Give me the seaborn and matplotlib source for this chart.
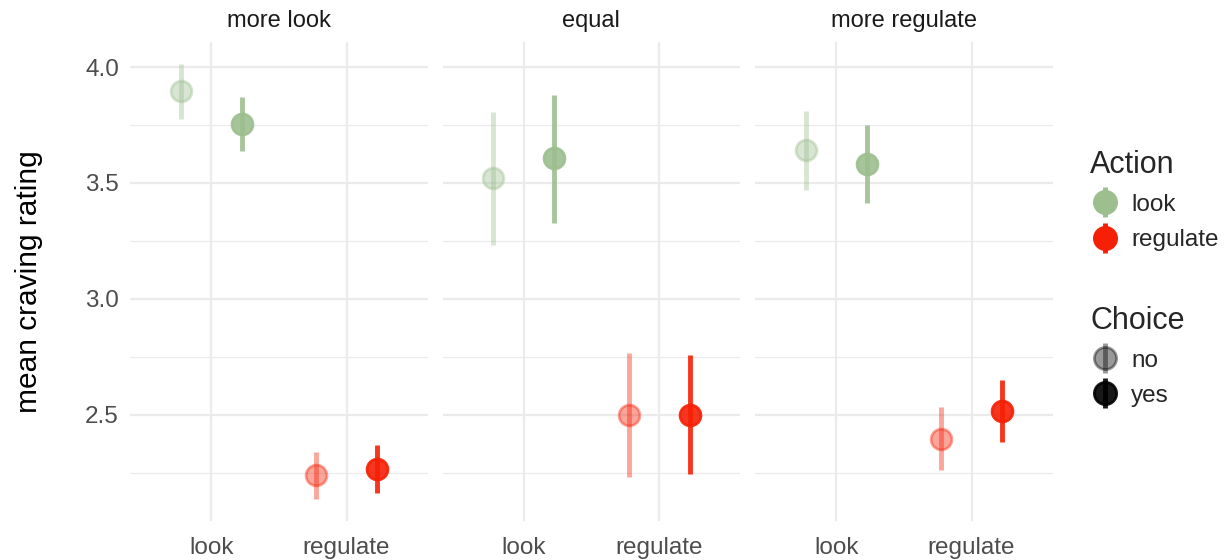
import numpy as np
import pandas as pd
import matplotlib
matplotlib.use("Agg")
import matplotlib.pyplot as plt
from matplotlib.lines import Line2D
from matplotlib.legend_handler import HandlerTuple
import seaborn as sns

sns.set_theme(style="whitegrid")
plt.rcParams['font.family'] = ['Liberation Sans', 'DejaVu Sans']

# data
conditions = ["more look", "equal", "more regulate"]
actions = ["look", "regulate"]
choices = ["no", "yes"]

cond_col = ["more look"] * 4 + ["equal"] * 4 + ["more regulate"] * 4
action_col = ["look", "look", "regulate", "regulate"] * 3
choice_col = ["no", "yes"] * 6
mean_rating = [3.897, 3.754, 2.241, 2.267,
               3.520, 3.606, 2.500, 2.500,
               3.642, 3.583, 2.397, 2.518]
lower = [3.777, 3.638, 2.137, 2.162,
         3.233, 3.329, 2.231, 2.244,
         3.471, 3.415, 2.260, 2.385]
upper = [4.012, 3.872, 2.339, 2.371,
         3.807, 3.879, 2.766, 2.756,
         3.810, 3.750, 2.533, 2.652]

df = pd.DataFrame({"cond": cond_col, "action": action_col, "choice": choice_col,
                   "mean": mean_rating, "lo": lower, "hi": upper})

action_colors = {"look": "#9dbf8f", "regulate": "#f52005"}
choice_alpha = {"no": 0.4, "yes": 0.9}
dodge = {"no": -0.225, "yes": 0.225}

fig, axes = plt.subplots(1, 3, figsize=(12.27, 5.6), dpi=100, sharey=True)
fig.subplots_adjust(left=0.106, right=0.858, top=0.925, bottom=0.07, wspace=0.05)

for ax, cond in zip(axes, conditions):
    sub = df[df["cond"] == cond]
    for _, row in sub.iterrows():
        xpos = actions.index(row["action"]) + dodge[row["choice"]]
        col = action_colors[row["action"]]
        a = choice_alpha[row["choice"]]
        ax.vlines(xpos, row["lo"], row["hi"], color=col, alpha=a, lw=3.5, zorder=3)
        ax.plot(xpos, row["mean"], "o", ms=15, color=col, mec=col, mew=2,
                alpha=a, zorder=4)
    ax.set_xlim(-0.6, 1.6)
    ax.set_ylim(2.043, 4.108)
    ax.set_xticks([0, 1])
    ax.set_xticklabels(actions)
    ax.set_yticks([2.5, 3.0, 3.5, 4.0])
    ax.set_yticks([2.25, 2.75, 3.25, 3.75], minor=True)
    ax.grid(True, which="major", color="#ebebeb", lw=1.6)
    ax.grid(True, which="minor", axis="y", color="#ebebeb", lw=0.9)
    ax.grid(False, which="minor", axis="x")
    ax.set_facecolor("white")
    for s in ax.spines.values():
        s.set_visible(False)
    ax.tick_params(axis="both", which="both", length=0, labelsize=17.5,
                   labelcolor="#4d4d4d")
    ax.tick_params(axis="x", pad=12)
    ax.tick_params(axis="y", pad=8)
    ax.set_title(cond, fontsize=17, color="#1a1a1a", pad=11)
    ax.set_xlabel("")
    ax.set_ylabel("")

axes[0].set_ylabel("mean craving rating", fontsize=21.5, color="black", labelpad=30)


def key(color, alpha):
    dot = Line2D([], [], marker="o", ls="", ms=16, color=color, mec=color,
                 mew=2, alpha=alpha)
    bar = Line2D([], [], marker="|", ls="", ms=22, mew=3.5, color=color, alpha=alpha)
    return (dot, bar)


h_action = [key(action_colors[a], 1.0) for a in actions]
h_choice = [key("black", choice_alpha[c]) for c in choices]

common = dict(loc="upper left", frameon=False, fontsize=17.5, title_fontsize=22,
              handler_map={tuple: HandlerTuple(ndivide=1, pad=0)},
              handlelength=1.2, handletextpad=0.5, labelspacing=0.55,
              alignment="left", borderpad=0)
leg1 = fig.legend(h_action, actions, title="Action",
                  bbox_to_anchor=(0.8785, 0.753), **common)
leg2 = fig.legend(h_choice, choices, title="Choice",
                  bbox_to_anchor=(0.8785, 0.475), **common)

fig.savefig("out.png", dpi=100, facecolor="white")
